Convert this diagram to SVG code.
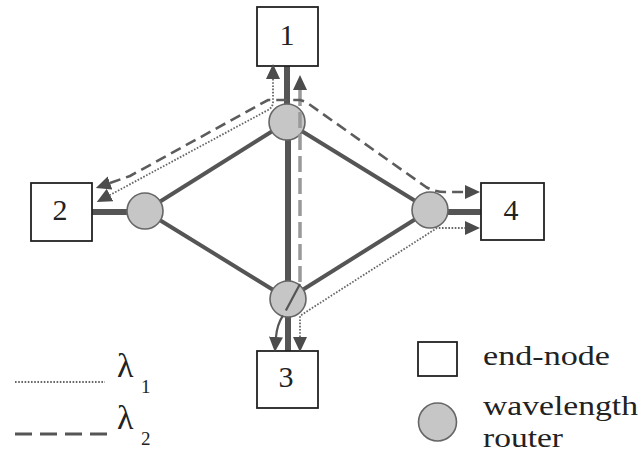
<svg xmlns="http://www.w3.org/2000/svg" width="643" height="454" viewBox="0 0 643 454">
<style>
.box{fill:#fff;stroke:#222;stroke-width:1.8}
.router{fill:#c6c6c6;stroke:#666;stroke-width:1.6}
.link{stroke:#555;stroke-width:4;fill:none}
.trunk{stroke:#555;stroke-width:6;fill:none}
.l1{stroke:#666;stroke-width:1.8;stroke-dasharray:1.6 1.6;fill:none}
.l2{stroke:#5c5c5c;stroke-width:2.6;stroke-dasharray:11 6;fill:none}
.l2v{stroke:#999;stroke-width:3.5;stroke-dasharray:16 6;fill:none}
text{fill:#222;font-family:'Liberation Serif','DejaVu Serif',serif}
.num{font-size:30px;text-anchor:middle}
.lbl{font-size:28px}
.lam{font-size:34px}
.sub{font-size:19px}
</style>
<defs>
<marker id="ah" viewBox="0 0 15 14" refX="0" refY="7" markerWidth="15" markerHeight="14" markerUnits="userSpaceOnUse" orient="auto-start-reverse">
<path d="M0,0 L15,7 L0,14 z" fill="#4c4c4c"/>
</marker>
</defs>

<g id="links">
<line class="trunk" x1="287" y1="66" x2="287" y2="122"/>
<line class="trunk" x1="92" y1="212" x2="145" y2="212"/>
<line class="trunk" x1="430" y1="212" x2="481" y2="212"/>
<line class="trunk" x1="288" y1="299" x2="288" y2="351"/>
<line class="trunk" x1="288" y1="122" x2="288" y2="299"/>
<line class="link" x1="287" y1="122" x2="145" y2="211"/>
<line class="link" x1="287" y1="122" x2="430" y2="210"/>
<line class="link" x1="145" y1="211" x2="288" y2="299"/>
<line class="link" x1="430" y1="210" x2="288" y2="299"/>
</g>

<g id="node-1"><rect class="box" x="257" y="7" width="61" height="59"/><text class="num" x="287" y="45">1</text></g>
<g id="node-2"><rect class="box" x="31" y="183" width="61" height="58"/><text class="num" x="60" y="220">2</text></g>
<g id="node-3"><rect class="box" x="257" y="351" width="61" height="57"/><text class="num" x="286" y="387">3</text></g>
<g id="node-4"><rect class="box" x="481" y="183" width="63" height="57"/><text class="num" x="511" y="220">4</text></g>

<g id="router-top"><circle class="router" cx="287" cy="122" r="18"/></g>
<g id="router-left"><circle class="router" cx="145" cy="211" r="18"/></g>
<g id="router-right"><circle class="router" cx="430" cy="210" r="18"/></g>
<g id="router-bottom"><circle class="router" cx="288" cy="299" r="18"/></g>

<g id="lightpaths">
<path class="l2v" d="M300,90 L300,282" marker-start="url(#ah)"/>
<path d="M300,284 L284,314 Q277,324 276,337" stroke="#555" stroke-width="2.2" fill="none" stroke-dasharray="30 6 100" marker-end="url(#ah)"/>
<path class="l2" d="M110,183 L130,176 L268,100 L300,100 L306,102 L426,187 Q435,192 445,192 L465,192" marker-start="url(#ah)" marker-end="url(#ah)"/>
<path class="l1" d="M273,79 L273,102 Q273,107 268,110 L110,195" marker-start="url(#ah)" marker-end="url(#ah)"/>
<path class="l1" d="M300,337 L300,316 L309,310 L437,228 L465,228" marker-start="url(#ah)" marker-end="url(#ah)"/>
</g>

<g id="legend">
<line class="l1" x1="15" y1="382" x2="105" y2="382"/>
<text class="lam" x="117" y="377">λ</text><text class="sub" x="141" y="393">1</text>
<line x1="15" y1="434" x2="107" y2="434" stroke="#555" stroke-width="3" stroke-dasharray="17 8"/>
<text class="lam" x="117" y="429">λ</text><text class="sub" x="141" y="445">2</text>
<rect class="box" x="418" y="342" width="39" height="34"/>
<text class="lbl" x="483" y="365" textLength="127" lengthAdjust="spacingAndGlyphs">end-node</text>
<circle class="router" cx="437.5" cy="422" r="19"/>
<text class="lbl" x="483" y="415" textLength="155" lengthAdjust="spacingAndGlyphs">wavelength</text>
<text class="lbl" x="483" y="447" textLength="80" lengthAdjust="spacingAndGlyphs">router</text>
</g>
</svg>
